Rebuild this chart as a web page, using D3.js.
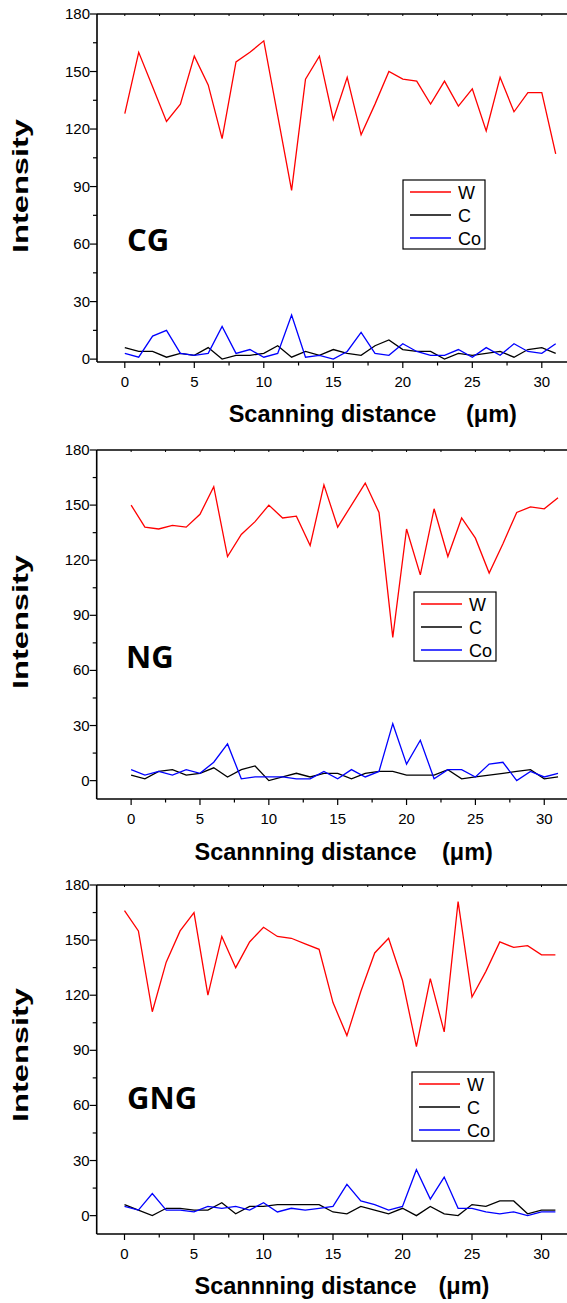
<!DOCTYPE html>
<html>
<head>
<meta charset="utf-8">
<script src="https://cdn.jsdelivr.net/npm/d3@7"></script>
<style>
  body { margin: 0; background: #fff; }
  svg { display: block; font-family: "Liberation Sans", Arial, sans-serif; }
</style>
</head>
<body>
<div id="chart"></div>
<script>
const WIDTH = 567;
const HEIGHT = 1303;

// scanning positions (um)
var distance = [0,1,2,3,4,5,6,7,8,9,10,11,12,13,14,15,16,17,18,19,20,21,22,23,24,25,26,27,28,29,30,31];

var cgW  = [128,160,142,124,133,158,143,115,155,160,166,127,88,146,158,125,147,117,133,150,146,145,133,145,132,141,119,147,129,139,139,107];
var cgC  = [6,4,4,1,3,2,6,0,2,2,3,7,1,4,2,5,3,2,7,10,5,4,4,0,3,2,3,4,1,5,6,3];
var cgCo = [3,1,12,15,3,2,3,17,3,5,1,3,23,1,2,0,4,14,3,2,8,4,2,2,5,1,6,2,8,4,3,8];

var ngW  = [150,138,137,139,138,145,160,122,134,141,150,143,144,128,161,138,150,162,146,78,137,112,148,122,143,132,113,129,146,149,148,154];
var ngC  = [3,1,5,6,3,4,7,2,6,8,0,2,4,2,4,4,1,4,5,5,3,3,3,6,1,2,3,4,5,6,1,2];
var ngCo = [6,3,5,3,6,4,10,20,1,2,2,2,1,1,5,1,6,2,5,31,9,22,1,6,6,2,9,10,0,5,2,4];

var gngW  = [166,155,111,138,155,165,120,152,135,149,157,152,151,148,145,116,98,122,143,151,128,92,129,100,171,119,133,149,146,147,142,142];
var gngC  = [6,3,0,4,4,3,3,7,1,5,5,6,6,6,6,2,1,5,3,1,4,0,5,1,0,6,5,8,8,1,3,3];
var gngCo = [5,3,12,3,3,2,5,4,5,3,7,2,4,3,4,5,17,8,6,3,5,25,9,21,4,4,2,1,2,0,2,2];

var yTicks = [0,30,60,90,120,150,180];
var yMinor = [15,45,75,105,135,165];
var xTicks = [0,5,10,15,20,25,30];
var xMinor = [2.5,7.5,12.5,17.5,22.5,27.5,32.5];

var seriesNames = ["W","C","Co"];
var seriesColors = ["#ff0000","#000000","#0000ff"];
var sampleNames = ["CG","NG","GNG"];
var xTitles = ["Scanning distance","Scannning distance","Scannning distance"];
var yTitle = "Intensity";
var unitLabel = "(\u03bcm)";

// layout of each panel (pixels)
var panels = [
  { series: [cgW, cgC, cgCo], xDom: [-2, 32], xRange: [97, 569.6], yDom: [-1.5, 180], yRange: [362, 14],
    legend: [403, 180], label: [127, 251], xTitleX: 332.5, unitX: 466, titleY: 422, yTitleY: 186 },
  { series: [ngW, ngC, ngCo], xDom: [-2.5, 32], xRange: [96.7, 571.8], yDom: [-10, 180], yRange: [799, 450],
    legend: [414, 592], label: [126, 668], xTitleX: 305.5, unitX: 442, titleY: 860, yTitleY: 622 },
  { series: [gngW, gngC, gngCo], xDom: [-2, 32], xRange: [96.7, 569.3], yDom: [-10, 180], yRange: [1234, 885],
    legend: [412, 1072], label: [127, 1109], xTitleX: 305.5, unitX: 438.5, titleY: 1294, yTitleY: 1055 }
];

var svg = d3.select("#chart").append("svg")
  .attr("width", WIDTH)
  .attr("height", HEIGHT);

var drawPanel = function (p, k) {
  var x = d3.scaleLinear().domain(p.xDom).range(p.xRange);
  var y = d3.scaleLinear().domain(p.yDom).range(p.yRange);
  var g = svg.append("g");

  var bottom = p.yRange[0], top = p.yRange[1], left = p.xRange[0], right = p.xRange[1];

  // frame lines (left, bottom, top)
  g.append("line").attr("x1", left).attr("x2", left).attr("y1", top).attr("y2", bottom)
    .attr("stroke", "#000").attr("stroke-width", 1.6);
  g.append("line").attr("x1", left).attr("x2", right).attr("y1", bottom).attr("y2", bottom)
    .attr("stroke", "#000").attr("stroke-width", 1.6);
  g.append("line").attr("x1", left).attr("x2", right).attr("y1", top).attr("y2", top)
    .attr("stroke", "#000").attr("stroke-width", 1.6);

  // y ticks
  g.selectAll(".ymaj").data(yTicks).enter().append("line")
    .attr("x1", left - 7).attr("x2", left)
    .attr("y1", function (d) { return y(d); }).attr("y2", function (d) { return y(d); })
    .attr("stroke", "#000").attr("stroke-width", 1.2);
  g.selectAll(".ymin").data(yMinor).enter().append("line")
    .attr("x1", left - 4).attr("x2", left)
    .attr("y1", function (d) { return y(d); }).attr("y2", function (d) { return y(d); })
    .attr("stroke", "#000").attr("stroke-width", 1.2);
  g.selectAll(".ylab").data(yTicks).enter().append("text")
    .attr("x", left - 7).attr("y", function (d) { return y(d) + 5; })
    .attr("text-anchor", "end").attr("font-size", 15)
    .text(function (d) { return d; });

  // x ticks (bottom outward, top small inward)
  var allX = xTicks.concat(xMinor);
  g.selectAll(".xmaj").data(xTicks).enter().append("line")
    .attr("x1", function (d) { return x(d); }).attr("x2", function (d) { return x(d); })
    .attr("y1", bottom).attr("y2", bottom + 6)
    .attr("stroke", "#000").attr("stroke-width", 1.2);
  g.selectAll(".xmin").data(xMinor).enter().append("line")
    .attr("x1", function (d) { return x(d); }).attr("x2", function (d) { return x(d); })
    .attr("y1", bottom).attr("y2", bottom + 3.5)
    .attr("stroke", "#000").attr("stroke-width", 1.2);
  g.selectAll(".xtop").data(allX).enter().append("line")
    .attr("x1", function (d) { return x(d); }).attr("x2", function (d) { return x(d); })
    .attr("y1", top).attr("y2", top + 2)
    .attr("stroke", "#000").attr("stroke-width", 1);
  g.selectAll(".xlab").data(xTicks).enter().append("text")
    .attr("x", function (d) { return x(d); }).attr("y", bottom + 25)
    .attr("text-anchor", "middle").attr("font-size", 15)
    .text(function (d) { return d; });

  // series lines
  var line = d3.line()
    .x(function (d, i) { return x(distance[i]); })
    .y(function (d) { return y(d); });
  [1, 2, 0].forEach(function (s) {
    g.append("path")
      .attr("d", line(p.series[s]))
      .attr("fill", "none")
      .attr("stroke", seriesColors[s])
      .attr("stroke-width", 1.3);
  });

  // legend
  var lg = g.append("g").attr("transform", "translate(" + p.legend[0] + "," + p.legend[1] + ")");
  lg.append("rect").attr("width", 82).attr("height", 69)
    .attr("fill", "#fff").attr("stroke", "#000").attr("stroke-width", 1.2);
  seriesNames.forEach(function (n, i) {
    var ry = 12 + i * 23;
    lg.append("line").attr("x1", 7).attr("x2", 48).attr("y1", ry).attr("y2", ry)
      .attr("stroke", seriesColors[i]).attr("stroke-width", 1.3);
    lg.append("text").attr("x", 55).attr("y", ry + 6.5).attr("font-size", 18).text(n);
  });

  // sample label
  g.append("text").attr("x", p.label[0]).attr("y", p.label[1])
    .attr("font-size", 31).attr("font-weight", "bold")
    .attr("font-family", "'Open Sans', 'Liberation Sans', sans-serif")
    .text(sampleNames[k]);

  // axis titles
  g.append("text").attr("x", p.xTitleX).attr("y", p.titleY)
    .attr("text-anchor", "middle").attr("font-size", 23.5).attr("font-weight", "bold")
    .text(xTitles[k]);
  g.append("text").attr("x", p.unitX).attr("y", p.titleY)
    .attr("font-size", 23.5).attr("font-weight", "bold")
    .text(unitLabel);
  g.append("text")
    .attr("transform", "translate(28," + p.yTitleY + ") rotate(-90)")
    .attr("text-anchor", "middle").attr("font-size", 22).attr("font-weight", "bold")
    .attr("textLength", 134).attr("lengthAdjust", "spacingAndGlyphs")
    .text(yTitle);
};

panels.forEach(drawPanel);
</script>
</body>
</html>
